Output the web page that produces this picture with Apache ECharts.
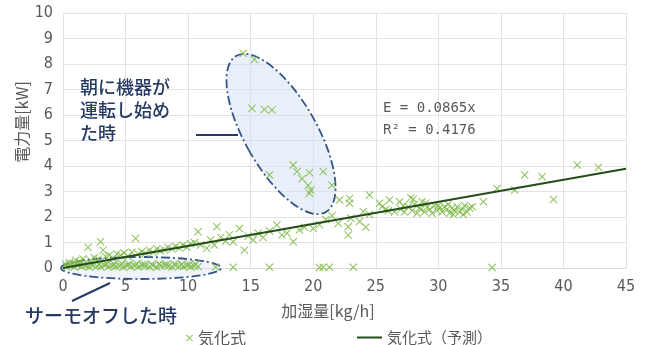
<!DOCTYPE html>
<html>
<head>
<meta charset="utf-8">
<script src="https://cdn.jsdelivr.net/npm/echarts@6/dist/echarts.min.js"></script>
<style>
  html, body { margin: 0; padding: 0; background: #fff; }
  #main { width: 646px; height: 345px; }
</style>
</head>
<body>
<div id="main"></div>
<script>
// 軸の目盛り
const xTicks = [0, 5, 10, 15, 20, 25, 30, 35, 40, 45]
const yTicks = [0, 1, 2, 3, 4, 5, 6, 7, 8, 9, 10]

// サーモオフ時 (y ≒ 0)
const thermoOff = [
  [0.3, 0.05], [0.6, 0.10], [0.9, 0.04], [1.2, 0.12], [1.5, 0.06], [1.8, 0.09],
  [2.1, 0.03], [2.4, 0.11], [2.7, 0.07], [3.0, 0.05], [3.3, 0.12], [3.6, 0.04],
  [3.9, 0.10], [4.2, 0.06], [4.5, 0.08], [4.8, 0.03], [5.1, 0.11], [5.4, 0.05],
  [5.7, 0.09], [6.0, 0.04], [6.3, 0.12], [6.6, 0.07], [6.9, 0.05], [7.2, 0.10],
  [7.5, 0.03], [7.8, 0.08], [8.1, 0.12], [8.4, 0.06], [8.7, 0.04], [9.0, 0.10],
  [9.3, 0.07], [9.6, 0.05], [9.9, 0.11], [10.2, 0.04], [10.5, 0.08], [10.8, 0.06],
  [0.5, 0.15], [1.0, 0.16], [1.6, 0.14], [2.2, 0.17], [2.9, 0.15], [3.5, 0.16],
  [4.1, 0.14], [4.7, 0.17], [5.3, 0.15], [5.9, 0.16], [6.5, 0.14], [7.1, 0.15],
  [7.7, 0.17], [8.3, 0.14], [8.9, 0.16], [9.5, 0.15], [10.1, 0.14], [10.6, 0.16],
  [12.2, 0.04], [13.6, 0.03], [16.5, 0.03], [20.5, 0.02], [20.8, 0.03], [21.3, 0.03],
  [23.2, 0.03], [34.3, 0.02]
]

// 朝に機器が運転し始めた時
const startUp = [
  [14.4, 8.42], [15.3, 8.18], [15.1, 6.26], [16.1, 6.22], [16.7, 6.20],
  [16.5, 3.65], [18.4, 4.04], [18.7, 3.78], [19.7, 3.74], [20.8, 3.78],
  [19.6, 3.25], [19.7, 2.93], [21.5, 3.25], [19.1, 3.50], [19.8, 3.05]
]

// 通常運転
const normal = [
  [0.2, 0.15], [0.5, 0.22], [0.8, 0.18], [1.0, 0.30], [1.3, 0.25], [1.6, 0.35],
  [2.0, 0.81], [2.2, 0.30], [2.5, 0.40], [2.8, 0.35], [3.0, 1.03], [3.2, 0.70],
  [3.4, 0.45], [3.7, 0.50], [4.0, 0.38], [4.3, 0.55], [4.6, 0.50], [4.9, 0.60],
  [5.2, 0.45], [5.5, 0.62], [5.8, 1.16], [6.0, 0.55], [6.3, 0.65], [6.6, 0.58],
  [6.9, 0.70], [7.2, 0.62], [7.5, 0.75], [7.8, 0.68], [8.1, 0.72], [8.4, 0.80],
  [8.7, 0.75], [9.0, 0.85], [9.3, 0.78], [9.6, 0.90], [9.9, 0.82], [10.2, 0.95],
  [10.5, 1.00], [10.8, 1.42], [11.0, 0.90], [11.5, 0.77], [11.8, 1.10], [12.1, 0.90],
  [12.3, 1.62], [12.6, 1.20], [13.0, 1.05], [13.3, 1.30], [13.6, 1.03], [14.1, 1.55],
  [14.5, 0.70], [14.8, 1.25], [15.2, 1.10], [15.6, 1.36], [16.0, 1.20], [16.5, 1.45],
  [17.1, 1.69], [17.5, 1.30], [17.9, 1.36], [18.4, 1.03], [18.9, 1.49], [19.3, 1.60],
  [20.0, 1.55], [20.5, 1.70], [21.0, 1.90], [21.5, 2.05], [22.0, 1.75], [22.8, 1.62],
  [22.8, 1.29], [23.0, 1.95], [23.7, 1.82], [24.2, 1.60], [24.5, 2.10], [22.1, 2.67],
  [22.9, 2.54], [22.9, 2.73], [24.5, 2.86], [24.0, 2.21], [25.3, 2.54], [26.1, 2.67],
  [26.9, 2.60], [25.8, 2.30], [26.5, 2.20], [27.2, 2.45], [26.0, 2.25], [25.5, 2.40],
  [27.0, 2.30], [27.3, 2.20], [27.6, 2.40], [27.9, 2.25], [28.1, 2.50], [28.3, 2.15],
  [28.5, 2.35], [28.7, 2.60], [28.9, 2.20], [29.1, 2.40], [29.3, 2.30], [29.5, 2.15],
  [29.7, 2.45], [29.9, 2.25], [30.1, 2.35], [30.3, 2.20], [30.5, 2.40], [30.7, 2.30],
  [30.9, 2.15], [31.1, 2.35], [31.3, 2.25], [31.5, 2.40], [31.7, 2.20], [31.9, 2.30],
  [32.1, 2.45], [32.3, 2.20], [32.5, 2.35], [28.0, 2.70], [28.6, 2.30], [29.0, 2.55],
  [30.0, 2.45], [30.8, 2.50], [31.2, 2.10], [32.0, 2.10], [32.7, 2.40], [33.6, 2.60],
  [27.8, 2.75], [34.7, 3.12], [36.1, 3.06], [36.9, 3.65], [38.3, 3.58], [39.2, 2.69],
  [41.1, 4.04], [42.8, 3.95]
]

// 気化式(予測)  E = 0.0865x
const trend = [[0, 0], [45, 3.89]]

const xMark = 'path://M0,0.9L0.9,0L5,4.1L9.1,0L10,0.9L5.9,5L10,9.1L9.1,10L5,5.9L0.9,10L0,9.1L4.1,5Z'
const tickFont = '"DejaVu Sans Condensed", "Noto Sans CJK JP", sans-serif'
const jpFont = '"Noto Sans CJK JP", sans-serif'

const myChart = echarts.init(document.getElementById('main'))
myChart.setOption({
  animation: false,
  grid: {left: 63, right: 20, top: 13, bottom: 77},
  xAxis: {
    type: 'value', min: xTicks[0], max: xTicks[xTicks.length - 1], interval: 5,
    axisLine: {lineStyle: {color: '#d9d9d9'}},
    axisTick: {show: false},
    splitLine: {lineStyle: {color: '#e3e3e3'}},
    axisLabel: {color: '#595959', fontFamily: tickFont, fontSize: 16, margin: 11}
  },
  yAxis: {
    type: 'value', min: yTicks[0], max: yTicks[yTicks.length - 1], interval: 1,
    axisLine: {show: false},
    axisTick: {show: false},
    splitLine: {lineStyle: {color: '#e3e3e3'}},
    axisLabel: {color: '#595959', fontFamily: tickFont, fontSize: 16, margin: 10}
  },
  legend: [
    {
      data: [{name: '気化式', icon: xMark}],
      left: 181, top: 325, itemWidth: 7, itemHeight: 7, itemGap: 0,
      textStyle: {color: '#595959', fontFamily: jpFont, fontSize: 16}
    },
    {
      data: [{name: '気化式（予測）', icon: 'rect'}],
      left: 352, top: 325, itemWidth: 25, itemHeight: 2,
      textStyle: {color: '#595959', fontFamily: jpFont, fontSize: 15}
    }
  ],
  graphic: [
    {
      type: 'ellipse', x: 281, y: 134, rotation: 0.52, z: 1,
      shape: {cx: 0, cy: 0, rx: 36, ry: 90},
      style: {fill: 'rgba(214,225,244,0.55)', stroke: '#34558a', lineWidth: 1.8, lineDash: [9, 3, 2, 3]}
    },
    {
      type: 'ellipse', x: 141, y: 268, z: 1,
      shape: {cx: 0, cy: 0, rx: 80, ry: 11},
      style: {fill: 'rgba(214,225,244,0.35)', stroke: '#34558a', lineWidth: 1.8, lineDash: [9, 3, 2, 3]}
    },
    {
      type: 'line', z: 5,
      shape: {x1: 196, y1: 135, x2: 238, y2: 135},
      style: {stroke: '#263a63', lineWidth: 2}
    },
    {
      type: 'line', z: 5,
      shape: {x1: 72, y1: 301, x2: 110, y2: 283},
      style: {stroke: '#263a63', lineWidth: 2}
    },
    {
      type: 'text', x: 80, y: 110, z: 5,
      style: {text: '朝に機器が\n運転し始め\nた時', fill: '#263a63', font: '500 18px "Noto Sans CJK JP"', lineHeight: 23, verticalAlign: 'middle'}
    },
    {
      type: 'text', x: 25, y: 316, z: 5,
      style: {text: 'サーモオフした時', fill: '#263a63', font: '500 19px "Noto Sans CJK JP"', verticalAlign: 'middle'}
    },
    {
      type: 'text', x: 383, y: 108, z: 5,
      style: {text: 'E = 0.0865x', fill: '#595959', font: '14px "DejaVu Sans Mono"', verticalAlign: 'middle'}
    },
    {
      type: 'text', x: 383, y: 130, z: 5,
      style: {text: 'R² = 0.4176', fill: '#595959', font: '14px "DejaVu Sans Mono"', verticalAlign: 'middle'}
    },
    {
      type: 'text', x: 22, y: 122, rotation: Math.PI / 2, z: 5,
      style: {text: '電力量[kW]', fill: '#595959', font: '16px "Noto Sans CJK JP"', align: 'center', verticalAlign: 'middle'}
    },
    {
      type: 'text', x: 328, y: 311, z: 5,
      style: {text: '加湿量[kg/h]', fill: '#595959', font: '16px "Noto Sans CJK JP"', align: 'center', verticalAlign: 'middle'}
    }
  ],
  series: [
    {
      name: '気化式',
      type: 'scatter',
      symbol: xMark,
      symbolSize: 8,
      z: 3,
      itemStyle: {color: '#7fba48', opacity: 0.9},
      data: thermoOff.concat(startUp, normal)
    },
    {
      name: '気化式（予測）',
      type: 'line',
      symbol: 'none',
      z: 4,
      lineStyle: {color: '#254d1c', width: 2},
      itemStyle: {color: '#254d1c'},
      data: trend
    }
  ]
})
</script>
</body>
</html>
